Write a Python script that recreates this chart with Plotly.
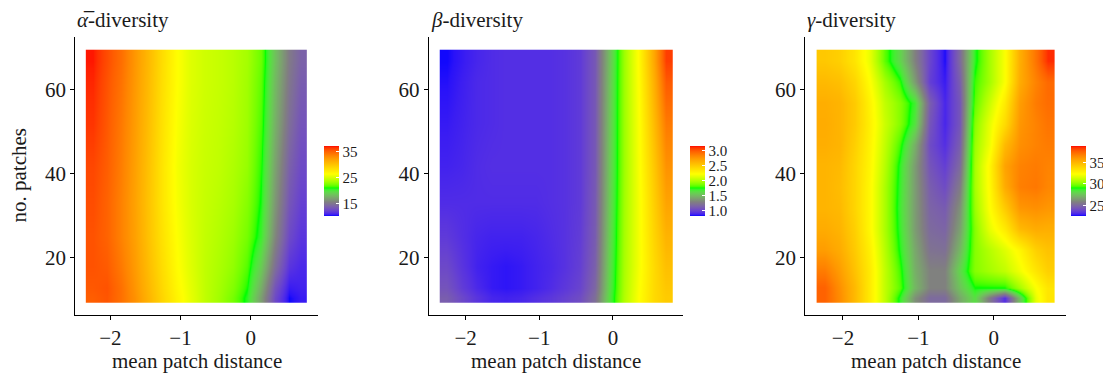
import plotly.graph_objects as go

# ---------------- data ----------------
x_dist = [-2.25, -2.05, -1.85, -1.65, -1.45, -1.25, -1.05, -0.85,
          -0.65, -0.45, -0.25, -0.05, 0.15, 0.35, 0.55, 0.72]
y_ab = [10.6, 13, 18, 25, 33, 42, 52, 62, 67]
y_g = [10.6, 13, 17, 22, 27, 32, 37, 42, 47, 52, 57, 62, 67]

# rows: bottom -> top (y_ab)
alpha_div = [
    [35.2, 35.5, 34.4, 32.8, 30.8, 28.8, 27.0, 25.5, 24.2, 23.3, 22.2, 20.6, 16.8, 12.5, 10.2, 10.6],
    [35.4, 35.6, 34.4, 32.6, 30.6, 28.6, 26.8, 25.4, 24.2, 23.4, 22.5, 21.0, 17.5, 13.0, 10.6, 10.8],
    [35.6, 35.3, 34.0, 32.3, 30.3, 28.3, 26.5, 25.2, 24.2, 23.6, 22.9, 21.6, 18.8, 14.5, 11.5, 11.0],
    [35.6, 35.0, 33.6, 32.0, 30.0, 28.0, 26.3, 25.1, 24.3, 23.8, 23.2, 22.2, 20.3, 15.8, 12.5, 11.5],
    [35.8, 35.0, 33.6, 31.9, 29.9, 27.8, 26.1, 25.0, 24.4, 24.0, 23.5, 22.6, 20.8, 16.5, 13.2, 12.0],
    [36.0, 35.2, 33.8, 32.0, 30.0, 27.8, 26.0, 25.0, 24.5, 24.2, 23.7, 23.0, 21.1, 17.0, 13.8, 12.5],
    [36.5, 35.4, 34.0, 32.2, 30.2, 28.0, 26.2, 25.1, 24.6, 24.3, 23.9, 23.2, 21.5, 17.6, 14.5, 13.0],
    [36.8, 35.6, 34.3, 32.4, 30.4, 28.2, 26.4, 25.2, 24.7, 24.4, 24.0, 23.3, 21.8, 18.0, 15.0, 13.5],
    [37.0, 35.8, 34.5, 32.5, 30.5, 28.3, 26.4, 25.2, 24.7, 24.4, 24.0, 23.4, 22.0, 18.3, 15.2, 13.8],
]

beta_div = [
    [1.13, 1.03, 0.95, 0.90, 0.89, 0.90, 0.93, 0.96, 1.00, 1.05, 1.21, 1.64, 2.00, 2.23, 2.42, 2.50],
    [1.08, 0.98, 0.91, 0.87, 0.86, 0.87, 0.89, 0.92, 0.96, 1.01, 1.17, 1.62, 1.99, 2.22, 2.42, 2.52],
    [1.03, 0.95, 0.89, 0.87, 0.86, 0.87, 0.89, 0.91, 0.94, 0.99, 1.14, 1.60, 1.98, 2.20, 2.42, 2.56],
    [0.97, 0.93, 0.90, 0.89, 0.89, 0.89, 0.90, 0.92, 0.94, 0.98, 1.12, 1.58, 1.97, 2.20, 2.45, 2.62],
    [0.92, 0.92, 0.92, 0.92, 0.92, 0.92, 0.92, 0.93, 0.94, 0.97, 1.11, 1.56, 1.96, 2.20, 2.48, 2.70],
    [0.89, 0.90, 0.92, 0.93, 0.93, 0.93, 0.93, 0.93, 0.94, 0.97, 1.10, 1.55, 1.95, 2.21, 2.52, 2.78],
    [0.87, 0.89, 0.91, 0.92, 0.93, 0.93, 0.93, 0.93, 0.94, 0.97, 1.10, 1.54, 1.95, 2.22, 2.58, 2.88],
    [0.85, 0.88, 0.91, 0.92, 0.93, 0.93, 0.93, 0.93, 0.94, 0.97, 1.10, 1.53, 1.95, 2.24, 2.64, 3.00],
    [0.84, 0.87, 0.90, 0.92, 0.93, 0.93, 0.93, 0.93, 0.94, 0.97, 1.10, 1.52, 1.95, 2.25, 2.68, 3.08],
]

# rows: bottom -> top (y_g)
gamma_div = [
    [37.5, 36.3, 34.8, 33.0, 31.0, 28.8, 26.2, 25.0, 25.0, 26.8, 28.2, 25.5, 23.2, 27.5, 31.8, 33.2],
    [37.5, 36.2, 34.8, 33.0, 31.0, 29.5, 27.2, 25.8, 25.8, 27.5, 29.0, 29.0, 29.0, 30.5, 32.2, 33.2],
    [36.8, 35.8, 34.5, 33.0, 31.0, 29.3, 27.0, 25.8, 25.8, 28.0, 30.0, 30.5, 31.0, 32.0, 33.2, 34.0],
    [35.8, 35.3, 34.2, 32.8, 30.8, 28.9, 26.8, 25.3, 25.2, 27.2, 30.0, 30.8, 31.6, 32.6, 34.0, 34.5],
    [35.3, 35.0, 34.0, 32.5, 30.6, 28.7, 26.5, 25.0, 24.8, 26.6, 30.0, 31.8, 33.0, 34.8, 35.3, 35.2],
    [35.0, 34.8, 33.8, 32.5, 30.6, 28.6, 26.5, 24.8, 24.5, 26.2, 30.3, 32.3, 34.2, 36.0, 36.2, 36.0],
    [35.0, 34.7, 33.8, 32.5, 30.6, 28.7, 26.5, 24.6, 24.0, 25.6, 30.5, 32.5, 35.3, 36.7, 36.9, 36.5],
    [35.0, 34.8, 33.8, 32.6, 30.8, 28.8, 26.5, 24.3, 23.6, 25.0, 30.5, 32.6, 35.6, 36.6, 36.8, 36.6],
    [35.2, 35.0, 34.0, 32.7, 31.0, 29.3, 27.0, 24.0, 23.2, 24.6, 30.3, 32.0, 34.8, 36.2, 36.6, 36.8],
    [35.3, 35.0, 34.2, 32.8, 31.2, 30.0, 28.3, 24.3, 23.0, 24.3, 30.0, 31.8, 33.6, 36.0, 36.6, 37.0],
    [35.2, 35.0, 34.2, 32.7, 31.0, 30.0, 28.6, 24.6, 23.0, 24.3, 29.5, 31.2, 33.0, 35.8, 36.8, 37.2],
    [34.8, 34.6, 33.8, 32.3, 30.5, 29.2, 26.5, 23.6, 22.8, 24.6, 29.2, 30.5, 32.2, 35.3, 36.6, 37.3],
    [34.3, 34.0, 33.2, 31.8, 29.5, 28.0, 25.8, 23.8, 22.6, 25.0, 28.8, 30.5, 32.2, 35.2, 37.0, 38.5],
]

panel_titles = ["<i>\u03b1\u0305</i>-diversity", "<i>\u03b2</i>-diversity", "<i>\u03b3</i>-diversity"]
cbar_ticks = [[15, 25, 35], [1.0, 1.5, 2.0, 2.5, 3.0], [25, 30, 35]]
cbar_ticktext = [["15", "25", "35"], ["1.0", "1.5", "2.0", "2.5", "3.0"], ["25", "30", "35"]]
z_limits = [(10.1, 37.2), (0.83, 3.16), (22.5, 38.8)]
x_ticks = [-2, -1, 0]
y_ticks = [20, 40, 60]
x_label = "mean patch distance"
y_label = "no. patches"

# ---------------- colour scale (Lab interpolation, like ggplot gradientn) ----------------
key_colours = [(0, 0, 255), (128, 128, 128), (0, 255, 0), (255, 255, 0), (255, 165, 0), (255, 0, 0)]


def _lin(c):
    c = c / 255.0
    return c / 12.92 if c <= 0.04045 else ((c + 0.055) / 1.055) ** 2.4


def _delin(c):
    c = max(0.0, min(1.0, c))
    v = 12.92 * c if c <= 0.0031308 else 1.055 * c ** (1 / 2.4) - 0.055
    return max(0, min(255, round(v * 255)))


WHITE = (0.95047, 1.0, 1.08883)


def rgb2lab(rgb):
    r, g, b = (_lin(v) for v in rgb)
    X = 0.4124564 * r + 0.3575761 * g + 0.1804375 * b
    Y = 0.2126729 * r + 0.7151522 * g + 0.0721750 * b
    Z = 0.0193339 * r + 0.1191920 * g + 0.9503041 * b

    def f(t):
        return t ** (1 / 3) if t > 216 / 24389 else (24389 / 27 * t + 16) / 116
    fx_, fy_, fz_ = f(X / WHITE[0]), f(Y / WHITE[1]), f(Z / WHITE[2])
    return (116 * fy_ - 16, 500 * (fx_ - fy_), 200 * (fy_ - fz_))


def lab2rgb(lab):
    L, a, bb = lab
    fy_ = (L + 16) / 116
    fx_ = fy_ + a / 500
    fz_ = fy_ - bb / 200

    def finv(t):
        return t ** 3 if t ** 3 > 216 / 24389 else (116 * t - 16) / (24389 / 27)
    X, Y, Z = finv(fx_) * WHITE[0], finv(fy_) * WHITE[1], finv(fz_) * WHITE[2]
    r = 3.2404542 * X - 1.5371385 * Y - 0.4985314 * Z
    g = -0.9692660 * X + 1.8760108 * Y + 0.0415560 * Z
    b = 0.0556434 * X - 0.2040259 * Y + 1.0572252 * Z
    return tuple(_delin(v) for v in (r, g, b))


labs = [rgb2lab(c) for c in key_colours]
nseg = len(labs) - 1
colorscale = []
N = 100
for k in range(N + 1):
    t = k / N
    s = min(int(t * nseg), nseg - 1)
    u = t * nseg - s
    lab = tuple(labs[s][j] + (labs[s + 1][j] - labs[s][j]) * u for j in range(3))
    r, g, b = lab2rgb(lab)
    colorscale.append([t, f"rgb({r},{g},{b})"])

# ---------------- style / geometry ----------------
W, H = 1111, 374
OFF = 8  # default page body margin of the html page
FONT = "Liberation Serif"
TXT = "#1a1a1a"
FS = 20


def fx(px):
    return (px - OFF) / W


def fy(py):
    return 1 - (py - OFF) / H


px_x = [(75.3, 317.7), (428.7, 683.3), (805.3, 1065.7)]
px_top, px_bot = 36.7, 315.0
cb_left = [324, 690, 1070.7]

fig = go.Figure()
zs = [alpha_div, beta_div, gamma_div]
ys = [y_ab, y_ab, y_g]

for i in range(3):
    xa = "x" if i == 0 else f"x{i+1}"
    ya = "y" if i == 0 else f"y{i+1}"
    fig.add_trace(go.Heatmap(
        x=x_dist, y=ys[i], z=zs[i], zsmooth="best",
        colorscale=colorscale, zmin=z_limits[i][0], zmax=z_limits[i][1],
        xaxis=xa, yaxis=ya,
        colorbar=dict(
            x=fx(cb_left[i]), xanchor="left", xref="paper", xpad=0,
            y=fy(181), yanchor="middle", ypad=0,
            len=70, lenmode="pixels", thickness=15, thicknessmode="pixels",
            outlinewidth=0,
            tickvals=cbar_ticks[i], ticktext=cbar_ticktext[i],
            ticks="inside", ticklen=3, tickcolor="white", tickwidth=1,
            tickfont=dict(family=FONT, size=15, color=TXT),
        ),
    ))

layout = dict(
    width=W, height=H,
    margin=dict(l=0, r=0, t=0, b=0),
    paper_bgcolor="white", plot_bgcolor="white",
    font=dict(family=FONT, color=TXT, size=FS),
    showlegend=False,
)

annotations = []
for i in range(3):
    sx = "" if i == 0 else str(i + 1)
    layout[f"xaxis{sx}"] = dict(
        domain=[fx(px_x[i][0]), fx(px_x[i][1])],
        range=[-2.5, 0.955], tickvals=x_ticks,
        showline=True, linecolor="black", linewidth=1,
        ticks="outside", ticklen=4, tickcolor="black", tickwidth=1,
        showgrid=False, zeroline=False,
        tickfont=dict(family=FONT, size=21, color=TXT),
        anchor="y" + sx,
    )
    layout[f"yaxis{sx}"] = dict(
        domain=[fy(px_bot), fy(px_top)],
        range=[6.4, 72.6], tickvals=y_ticks,
        showline=True, linecolor="black", linewidth=1,
        ticks="outside", ticklen=4, tickcolor="black", tickwidth=1,
        showgrid=False, zeroline=False,
        tickfont=dict(family=FONT, size=21, color=TXT),
        anchor="x" + sx,
    )
    annotations.append(dict(
        text=panel_titles[i], xref=f"x{sx} domain", yref="paper",
        x=0, y=fy(20), xanchor="left", yanchor="middle",
        showarrow=False, font=dict(family=FONT, size=21, color=TXT),
    ))
    annotations.append(dict(
        text=x_label, xref=f"x{sx} domain", yref="paper",
        x=0.5, y=fy(361), xanchor="center", yanchor="middle",
        showarrow=False, font=dict(family=FONT, size=21, color=TXT),
        borderpad=0,
    ))

annotations.append(dict(
    text=y_label, xref="paper", yref="paper",
    x=fx(18.5), y=fy(176), xanchor="center", yanchor="middle",
    textangle=-90, showarrow=False, font=dict(family=FONT, size=21, color=TXT),
))
layout["annotations"] = annotations

fig.update_layout(**layout)
fig.write_html("out.html")
